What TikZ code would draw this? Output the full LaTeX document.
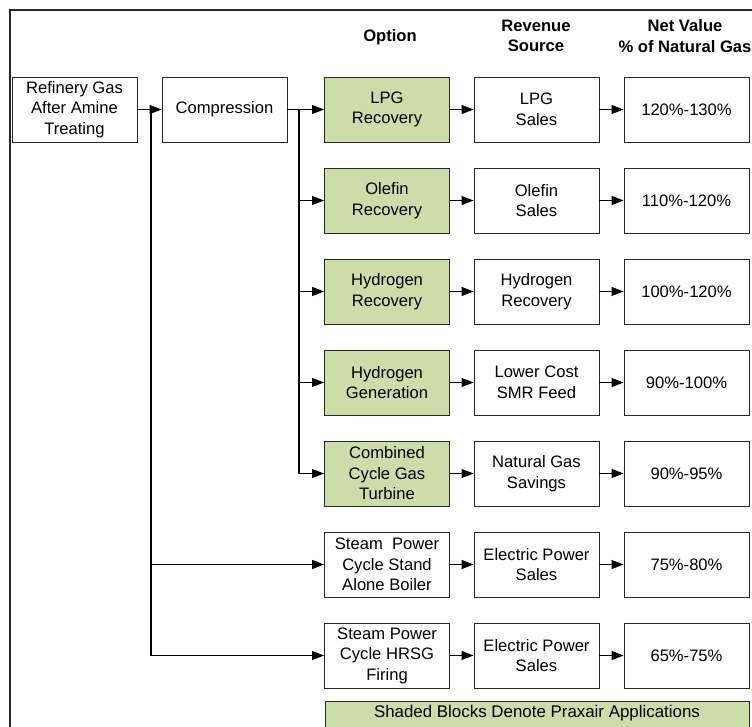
\documentclass[tikz,border=0pt]{standalone}
\usepackage{fontspec}
\setmainfont{Liberation Sans}
\usetikzlibrary{arrows.meta}
\definecolor{praxgreen}{RGB}{204,221,170}
\definecolor{linegray}{RGB}{40,40,40}
\tikzset{
  box/.style={draw=linegray, line width=0.9pt, minimum width=125pt, minimum height=65pt,
    inner sep=0pt, align=center, font=\fontsize{16.6}{20.5}\selectfont},
  shaded/.style={box, fill=praxgreen},
  plain/.style={box, fill=white},
  head/.style={align=center, font=\fontsize{16.6}{20.5}\selectfont\bfseries, inner sep=0pt},
  conn/.style={line width=1.1pt, -{Triangle[length=12pt,width=9pt]}},
  trunk/.style={line width=1.6pt},
}
\begin{document}
\begin{tikzpicture}[x=1pt,y=-1pt]
\useasboundingbox (0,0) rectangle (752,727);
\clip (0,0) rectangle (752,727);
\fill[white] (0,0) rectangle (752,727);
\draw[line width=1.2pt, draw=linegray] (10,10) rectangle (770,745);

% headers
\node[head] (hopt) at (390,37) {Option};
\node[head] (hrev) at (536,36) {Revenue\\Source};
\node[head] (hnet) at (685,36) {Net Value\\\% of Natural Gas};

% first column
\node[plain] (ref) at (74.5,109.5) {Refinery Gas\\After Amine\\Treating};
\node[plain] (comp) at (224.5,109.5) {Compression};

% option column
\node[shaded] (o1) at (387,109.5) {LPG\\Recovery};
\node[shaded] (o2) at (387,200.5) {Olefin\\Recovery};
\node[shaded] (o3) at (387,291.5) {Hydrogen\\Recovery};
\node[shaded] (o4) at (387,382.5) {Hydrogen\\Generation};
\node[shaded] (o5) at (387,473.5) {Combined\\Cycle Gas\\Turbine};
\node[plain] (o6) at (387,564.5) {Steam~ Power\\Cycle Stand\\Alone Boiler};
\node[plain] (o7) at (387,655.5) {Steam Power\\Cycle HRSG\\Firing};

% revenue column
\node[plain] (r1) at (536.5,109.5) {LPG\\Sales};
\node[plain] (r2) at (536.5,200.5) {Olefin\\Sales};
\node[plain] (r3) at (536.5,291.5) {Hydrogen\\Recovery};
\node[plain] (r4) at (536.5,382.5) {Lower Cost\\SMR Feed};
\node[plain] (r5) at (536.5,473.5) {Natural Gas\\Savings};
\node[plain] (r6) at (536.5,564.5) {Electric Power\\Sales};
\node[plain] (r7) at (536.5,655.5) {Electric Power\\Sales};

% net value column
\node[plain] (n1) at (686.5,109.5) {120\%-130\%};
\node[plain] (n2) at (686.5,200.5) {110\%-120\%};
\node[plain] (n3) at (686.5,291.5) {100\%-120\%};
\node[plain] (n4) at (686.5,382.5) {90\%-100\%};
\node[plain] (n5) at (686.5,473.5) {90\%-95\%};
\node[plain] (n6) at (686.5,564.5) {75\%-80\%};
\node[plain] (n7) at (686.5,655.5) {65\%-75\%};

% legend
\node[shaded, minimum width=424pt, minimum height=34pt, anchor=north west] (leg) at (325,701) {};
\node[font=\fontsize{16.9}{20.5}\selectfont, inner sep=0pt] (legt) at (537,713) {Shaded Blocks Denote Praxair Applications};

% junctions
\coordinate (jL) at (151,109.5);
\coordinate (jR) at (299,109.5);
\coordinate (jLb) at (151,655.5);
\coordinate (jRb) at (299,473.5);

\draw[trunk] (jL) -- (jLb);
\draw[trunk] (comp.east) -- (jR) -- (jRb);

\draw[conn] (ref) -- (comp);
\draw[conn] (jR) -- (o1);
\foreach \i in {2,3,4,5}{
  \draw[conn] (jR |- o\i.west) -- (o\i.west);
}
\draw[conn] (jL |- o6.west) -- (o6.west);
\draw[conn] (jLb) -- (o7.west);

\foreach \i in {1,...,7}{
  \draw[conn] (o\i) -- (r\i);
  \draw[conn] (r\i) -- (n\i);
}
\end{tikzpicture}
\end{document}
